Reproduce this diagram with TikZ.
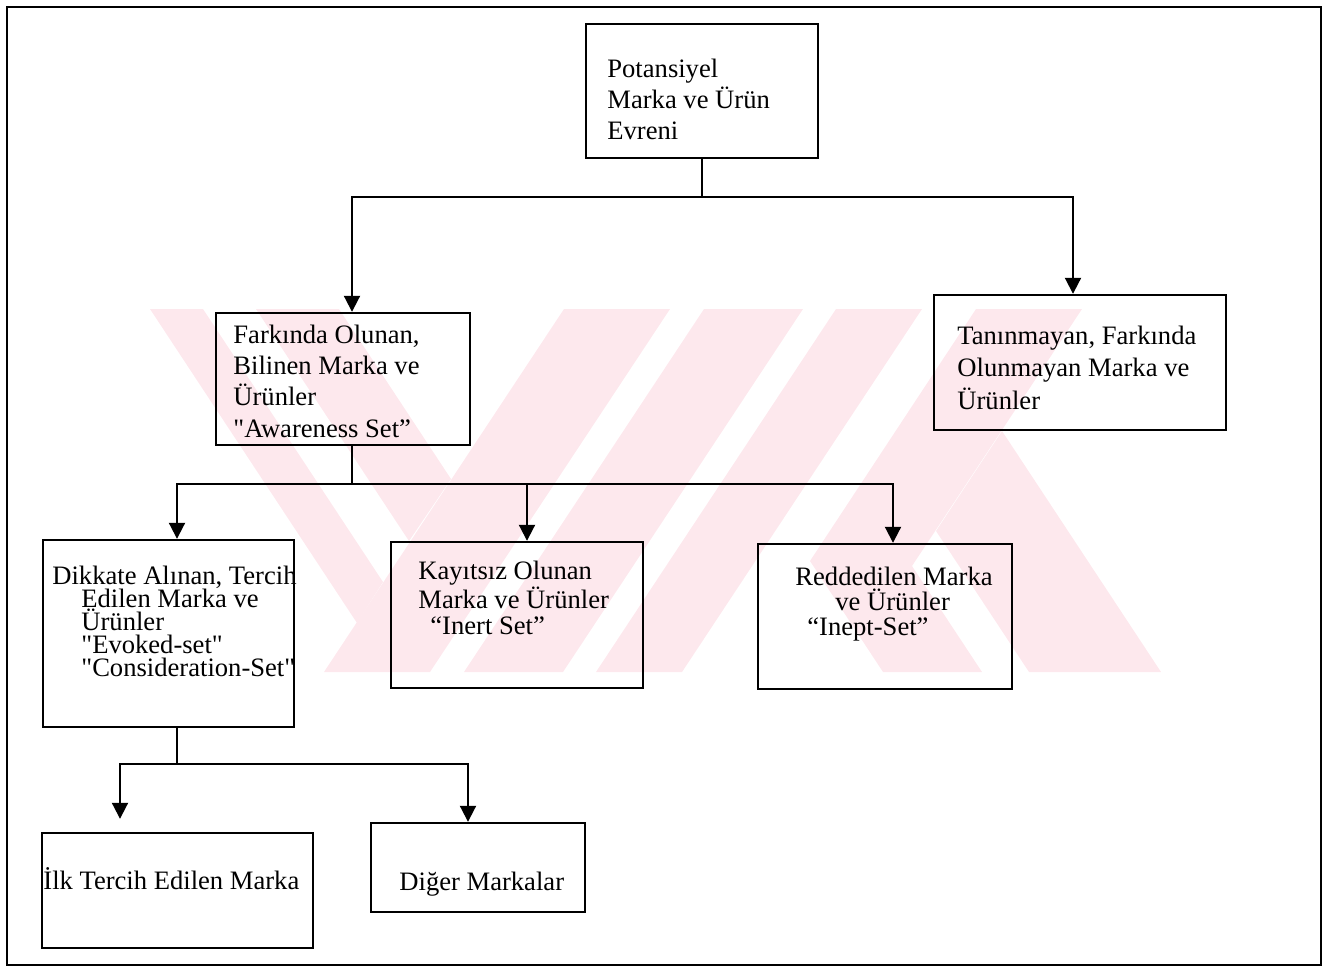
\documentclass[tikz,border=0pt]{standalone}
\usepackage{fontspec}
\setmainfont{Liberation Serif}
\usetikzlibrary{arrows.meta,calc}
\definecolor{wmpink}{RGB}{253,232,237}
\tikzset{
  box/.style={draw, line width=1.2pt, inner sep=0pt},
  % multi-line texts are placed by the baseline of their last line
  txt/.style={anchor=base west, inner sep=0pt, align=left},
  link/.style={line width=1pt},
  arr/.style={link, -{Triangle[length=8pt,width=8pt]}},
}
\newcommand{\fs}[1]{\fontsize{13.3}{#1}\selectfont}
\newcommand{\sq}{\textquotedbl{}}
\begin{document}
\begin{tikzpicture}[x=0.5pt,y=-0.5pt]
\useasboundingbox (0,0) rectangle (1328,969);

% faint background emblem
\begin{scope}
  \clip (150,309) rectangle (1165,672);
  \fill[wmpink] (150,309) -- (203,309) -- (383,582) -- (357,623) -- cycle;
  \fill[wmpink] (256,309) -- (339,309) -- (451,479) -- (409,541) -- cycle;
  \fill[wmpink] (564,309) -- (670,309) -- (430,672) -- (324,672) -- cycle;
  \fill[wmpink] (704,309) -- (803,309) -- (563,672) -- (464,672) -- cycle;
  \fill[wmpink] (836,309) -- (922,309) -- (682,672) -- (596,672) -- cycle;
  \fill[wmpink] (976,309) -- (1082,309) -- (912,566) -- (982,672) -- (883,672) -- (810,561) -- cycle;
  \fill[wmpink] (936,531) -- (1002,431) -- (1161,672) -- (1029,672) -- cycle;
\end{scope}

% outer frame
\draw[line width=1pt] (7,7) rectangle (1321,965);

% boxes
\node[box, minimum width=116pt,   minimum height=67pt]   (pot) at (702,91) {};
\node[box, minimum width=127pt,   minimum height=66pt]   (far) at (343,379) {};
\node[box, minimum width=146pt,   minimum height=67.5pt] (tan) at (1080,362.5) {};
\node[box, minimum width=125.5pt, minimum height=93.5pt] (dik) at (168.5,633.5) {};
\node[box, minimum width=126pt,   minimum height=73pt]   (kay) at (517,615) {};
\node[box, minimum width=127pt,   minimum height=72.5pt] (red) at (885,616.5) {};
\node[box, minimum width=135.5pt, minimum height=57.5pt] (ilk) at (177.5,890.5) {};
\node[box, minimum width=107pt,   minimum height=44.5pt] (dig) at (478,867.5) {};

% box texts
\node[txt, font=\fs{15.5}] (t-pot) at (607,139) {Potansiyel\\Marka ve Ürün\\Evreni};
\node[txt, font=\fs{15.6}] (t-far) at (233,437) {Farkında Olunan,\\Bilinen Marka ve\\Ürünler\\\sq Awareness Set”};
\node[txt, font=\fs{16.25}] (t-tan) at (957,409) {Tanınmayan, Farkında\\Olunmayan Marka ve\\Ürünler};
\node[txt, font=\fs{11.5}] (t-dik) at (52,676) {Dikkate Alınan, Tercih\\\hspace*{14.5pt}Edilen Marka ve\\\hspace*{14.5pt}Ürünler\\\hspace*{14.5pt}\sq Evoked-set\sq\\\hspace*{14.5pt}\sq Consideration-Set\sq};
\node[txt, font=\fs{12.75}] (t-kay) at (418,634) {Kayıtsız Olunan\\Marka ve Ürünler\\\hspace*{6pt}“Inert Set”};
\node[txt, font=\fs{12.5}] (t-red) at (795,635) {Reddedilen Marka\\\hspace*{20pt}ve Ürünler\\\hspace*{6pt}“Inept-Set”};
\node[txt, font=\fs{15.5}] (t-ilk) at (43,889) {İlk Tercih Edilen Marka};
\node[txt, font=\fs{15.5}] (t-dig) at (399,890) {Diğer Markalar};

% connectors
\coordinate (s1)  at (702,197);
\coordinate (h1l) at (352,197);
\coordinate (h1r) at (1073,197);
\draw[link] (pot.south -| s1) -- (s1);
\draw[arr] (s1) -- (h1l) -- (far.north -| h1l);
\draw[arr] (s1) -- (h1r) -- (tan.north -| h1r);

\coordinate (s2)  at (352,484);
\coordinate (h2a) at (177,484);
\coordinate (h2b) at (527,484);
\coordinate (h2c) at (893,484);
\draw[link] (far.south -| s2) -- (s2);
\draw[arr] (s2) -- (h2a) -- (dik.north -| h2a);
\draw[arr] (h2b) -- (kay.north -| h2b);
\draw[arr] (s2) -- (h2c) -- (red.north -| h2c);

\coordinate (s3)  at (177,764);
\coordinate (h3a) at (120,764);
\coordinate (h3b) at (468,764);
\draw[link] (dik.south -| s3) -- (s3);
\draw[arr, shorten >=6.5pt] (s3) -- (h3a) -- (ilk.north -| h3a);
\draw[arr] (s3) -- (h3b) -- (dig.north -| h3b);
\end{tikzpicture}
\end{document}
